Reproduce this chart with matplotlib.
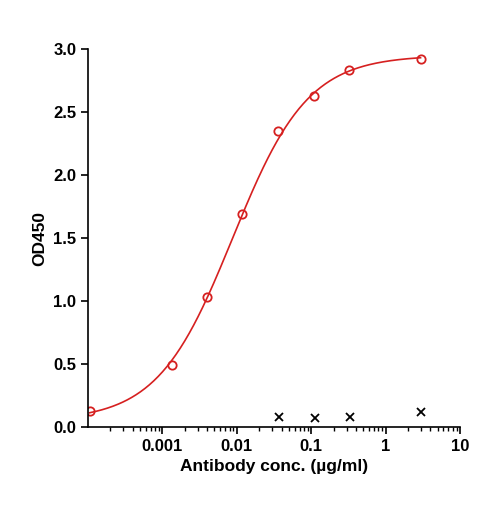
import numpy as np
import matplotlib
matplotlib.use("Agg")
import matplotlib.pyplot as plt

plt.rcParams['font.family'] = ['Liberation Sans', 'DejaVu Sans']
plt.rcParams['font.weight'] = 'bold'

conc = [0.000105, 0.00133, 0.0040, 0.0118, 0.036, 0.108, 0.325, 2.95]
od = [0.13, 0.49, 1.03, 1.69, 2.35, 2.63, 2.83, 2.92]
negConc = [0.037, 0.111, 0.333, 3.0]
negOd = [0.08, 0.07, 0.08, 0.12]

# fitted 4PL params
bottom, top, ec50, hill = 0.05, 2.95, 0.0088, 0.86

fig = plt.figure(figsize=(4.85, 5.08), dpi=100)
ax = fig.add_axes([88/485, 1-427/508, (460-88)/485, (427-49)/508])

xs = np.logspace(np.log10(0.000105), np.log10(2.95), 300)
ys = bottom + (top - bottom) / (1 + (ec50 / xs) ** hill)
ax.plot(xs, ys, color='#d62020', lw=1.2)
ax.plot(conc, od, 'o', mfc='none', mec='#d62020', ms=6, mew=1.3)
ax.plot(negConc, negOd, 'x', color='black', ms=6, mew=1.3)

ax.set_xscale('log')
ax.set_xlim(0.0001, 10)
ax.set_ylim(0, 3.0)
ax.set_xticks([0.001, 0.01, 0.1, 1, 10])
ax.set_xticklabels(['0.001', '0.01', '0.1', '1', '10'])
ax.set_yticks(np.arange(0, 3.01, 0.5))
ax.set_yticklabels(['%.1f' % v for v in np.arange(0, 3.01, 0.5)])
ax.tick_params(direction='out', width=1.2, length=5, labelsize=12)
ax.tick_params(which='minor', length=3, width=1)
for s in ['top', 'right']:
    ax.spines[s].set_visible(False)
for s in ['left', 'bottom']:
    ax.spines[s].set_linewidth(1.2)
ax.set_xlabel('Antibody conc. (µg/ml)', fontsize=12.5, fontweight='bold')
ax.set_ylabel('OD450', fontsize=12.5, fontweight='bold')

fig.savefig('out.png')
